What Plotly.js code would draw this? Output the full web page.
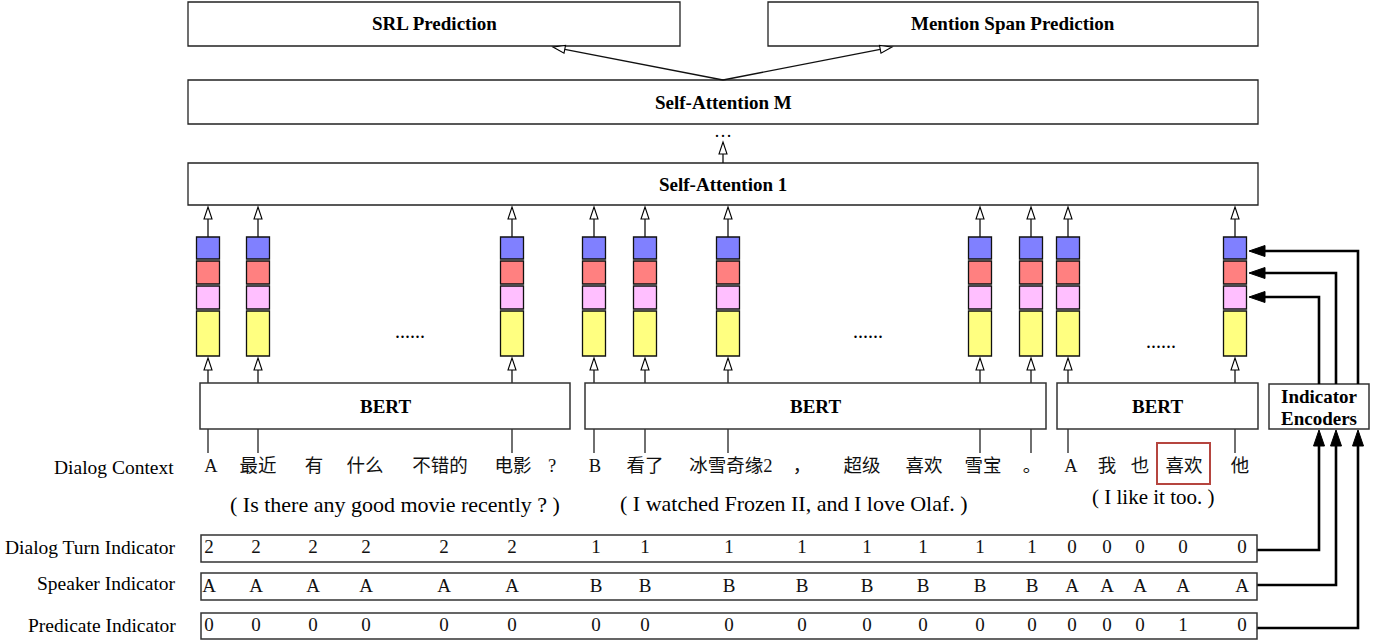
<!DOCTYPE html>
<html>
<head>
<meta charset="utf-8">
<script src="https://cdn.plot.ly/plotly-3.0.1.min.js"></script>
<style>html,body{margin:0;padding:0;background:#fff;}#chart{width:1385px;height:643px;}</style>
</head>
<body>
<div id="chart"></div>
<script>
// ---------- data ----------
const topLabels = ['SRL Prediction', 'Mention Span Prediction'];
const layerLabels = ['Self-Attention M', 'Self-Attention 1'];
const encoderLabels = ['BERT', 'BERT', 'BERT'];
const indicatorEncoderLabel = ['Indicator', 'Encoders'];
const contextLabel = 'Dialog Context';
const contextTokens = ['A','最近','有','什么','不错的','电影','?','B','看了','冰雪奇缘2','，','超级','喜欢','雪宝','。','A','我','也','喜欢','他'];
const translations = ['( Is there any good movie recently ? )', '( I watched Frozen II, and I love Olaf. )', '( I like it too. )'];
const rowLabels = ['Dialog Turn Indicator', 'Speaker Indicator', 'Predicate Indicator'];
const turnIndicator = [2,2,2,2,2,2,1,1,1,1,1,1,1,1,0,0,0,0,0];
const speakerIndicator = ['A','A','A','A','A','A','B','B','B','B','B','B','B','B','A','A','A','A','A'];
const predicateIndicator = [0,0,0,0,0,0,0,0,0,0,0,0,0,0,0,0,0,1,0];
const ellipsis = ['......', '......', '......'];

// ---------- layout constants ----------
const W = 1385, H = 643;
const tokenX = [211,258,314,365,440,513,552,595,645,731,802,862,924,983,1032,1071,1107,1140,1184,1240];
const indicatorX = [209,256,313,366,444,512,596,645,729,802,867,923,980,1032,1072,1107,1140,1183,1242];
const columnX = [208,258,512,594,645,728,980,1031,1068,1235];
const blockColors = ['#8080ff','#ff8080','#ffbfff','#ffff80'];
const blockY = [[237,259],[261,284],[286,309],[311,356]];
const SERIF = 'Liberation Serif, Times New Roman, serif';
const CJK = 'Liberation Serif, Noto Sans CJK SC, serif';

const shapes = [];
const annotations = [];
const BOX = '#333333';

function rect(x0,y0,x1,y1,color,width,fill){
  shapes.push({type:'rect',xref:'x',yref:'y',x0:x0,y0:y0,x1:x1,y1:y1,
    line:{color:color||BOX,width:width||1.5},fillcolor:fill||'rgba(0,0,0,0)',layer:'above'});
}
function line(x0,y0,x1,y1,width,color){
  shapes.push({type:'line',xref:'x',yref:'y',x0:x0,y0:y0,x1:x1,y1:y1,
    line:{color:color||'#111',width:width||1.3},layer:'above'});
}
function pathLine(pts,width){
  let d = 'M ' + pts.map(p => p[0]+','+p[1]).join(' L ');
  shapes.push({type:'path',xref:'x',yref:'y',path:d,line:{color:'#000',width:width},layer:'above'});
}
function head(fx,fy,tx,ty,len,w,fill,lw){
  const dx = tx-fx, dy = ty-fy, n = Math.hypot(dx,dy);
  const ux = dx/n, uy = dy/n, px = -uy, py = ux;
  const bx = tx-ux*len, by = ty-uy*len;
  const p1 = [bx+px*w/2, by+py*w/2], p2 = [bx-px*w/2, by-py*w/2];
  shapes.push({type:'path',xref:'x',yref:'y',
    path:'M '+tx+','+ty+' L '+p1[0]+','+p1[1]+' L '+p2[0]+','+p2[1]+' Z',
    fillcolor:fill, line:{color:'#000',width:lw||1.1},layer:'above'});
  return [bx,by];
}
function hollowArrow(fx,fy,tx,ty){
  const b = head(fx,fy,tx,ty,12,8,'#ffffff',1.1);
  line(fx,fy,b[0],b[1],1.3);
}
function label(x,y,text,size,bold,anchor,family){
  annotations.push({xref:'x',yref:'y',x:x,y:y,text:bold?'<b>'+text+'</b>':text,showarrow:false,
    xanchor:anchor||'center',yanchor:'middle',font:{family:family||SERIF,size:size||19,color:'#000'}});
}

// top boxes
rect(188,2,680,46,'#222',1.3,'#fff');
rect(768,2,1258,46,'#222',1.3,'#fff');
label(434,23,topLabels[0],19,true);
label(1013,23,topLabels[1],19,true);
rect(188,80,1258,124,'#222',1.3,'#fff');
label(723,102,layerLabels[0],19,true);
rect(188,163,1258,205,'#222',1.3,'#fff');
label(723,184,layerLabels[1],19,true);
hollowArrow(723,80,553,47);
hollowArrow(723,80,892,47);
label(723,131,'…',18,false);
hollowArrow(723,163,723,142);

// token columns
columnX.forEach(c => {
  blockY.forEach((yy,i) => rect(c-11.5,yy[0],c+11.5,yy[1],'#111',1.3,blockColors[i]));
  hollowArrow(c,blockY[0][0],c,207);
  hollowArrow(c,383,c,358);
  line(c,429,c,453,1.3,'#222');
});
label(410,331,ellipsis[0],20,false);
label(868,331,ellipsis[1],20,false);
label(1161,341,ellipsis[2],20,false);

// BERT boxes
rect(200,383,570,429,BOX,1.5,'#fff');
rect(585,383,1046,429,BOX,1.5,'#fff');
rect(1057,383,1258,429,BOX,1.5,'#fff');
label(385,406,encoderLabels[0],19,true);
label(815,406,encoderLabels[1],19,true);
label(1157,406,encoderLabels[2],19,true);

// indicator encoders
rect(1269,384,1369,429,BOX,1.5,'#fff');
label(1319,396,indicatorEncoderLabel[0],19,true);
label(1319,418,indicatorEncoderLabel[1],19,true);

// encoder -> last column arrows (filled)
const encV = [1319,1336,1358];
const encTargets = [297,273,251];
encV.forEach((vx,i) => {
  const b = head(vx,encTargets[i],1249,encTargets[i],16,11,'#000',1);
  pathLine([[vx,384],[vx,encTargets[i]],[b[0],encTargets[i]]],2.6);
});
// indicator rows -> encoders
const rowLineY = [550,585,628];
encV.forEach((vx,i) => {
  const b = head(vx,rowLineY[i],vx,430,16,11,'#000',1);
  pathLine([[1257,rowLineY[i]],[vx,rowLineY[i]],[vx,b[1]]],2.6);
});

// dialog context
label(176,467,contextLabel,19.5,false,'right');
rect(1157,443,1210,484,'#b5453f',2);
label(395,504,translations[0],22,false);
label(794,503,translations[1],22,false);
label(1153,497,translations[2],21,false);

// indicator rows
const rowY = [[535,562],[573,600],[613,639]];
rowY.forEach((r,i) => {
  rect(201,r[0],1257,r[1],BOX,1.5);
  label(178,[547,583,625][i],rowLabels[i],19.5,false,'right');
});

const textTrace = (xs, y, txt, fam, size) => ({
  type:'scatter', mode:'text', x:xs, y:xs.map(()=>y), text:txt.map(String),
  textposition:'middle center', hoverinfo:'skip', cliponaxis:false, showlegend:false,
  textfont:{family:fam, size:size, color:'#111'}
});

const data = [
  textTrace(tokenX, 467, contextTokens, CJK, 18.5),
  textTrace(indicatorX, 548, turnIndicator, SERIF, 19),
  textTrace(indicatorX, 587, speakerIndicator, SERIF, 19),
  textTrace(indicatorX, 626, predicateIndicator, SERIF, 19)
];

const layout = {
  width:W, height:H, margin:{l:0,r:0,t:0,b:0}, paper_bgcolor:'#fff', plot_bgcolor:'#fff',
  xaxis:{range:[0,W], visible:false, fixedrange:true},
  yaxis:{range:[H,0], visible:false, fixedrange:true},
  shapes:shapes, annotations:annotations, showlegend:false
};
Plotly.newPlot('chart', data, layout, {staticPlot:true, displayModeBar:false});
</script>
</body>
</html>
